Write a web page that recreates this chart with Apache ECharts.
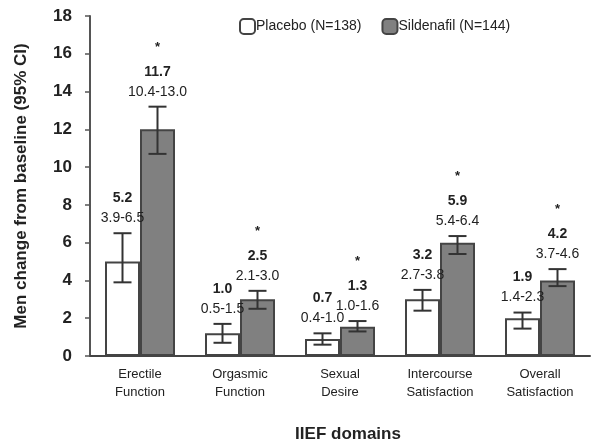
<!DOCTYPE html>
<html>
<head>
<meta charset="utf-8">
<script src="https://cdn.jsdelivr.net/npm/echarts@6/dist/echarts.min.js"></script>
<style>html,body{margin:0;padding:0;background:#fff}#c{width:598px;height:441px}</style>
</head>
<body>
<div id="c"></div>
<script>
var categories = ['Erectile\nFunction', 'Orgasmic\nFunction', 'Sexual\nDesire', 'Intercourse\nSatisfaction', 'Overall\nSatisfaction'];
var placeboBars = [5.0, 1.2, 0.9, 3.0, 2.0];
var placeboLow = [3.9, 0.7, 0.6, 2.4, 1.45];
var placeboHigh = [6.5, 1.7, 1.2, 3.5, 2.3];
var placeboMean = ['5.2', '1.0', '0.7', '3.2', '1.9'];
var placeboCI = ['3.9-6.5', '0.5-1.5', '0.4-1.0', '2.7-3.8', '1.4-2.3'];
var sildBars = [12.0, 3.0, 1.55, 6.0, 4.0];
var sildLow = [10.7, 2.5, 1.3, 5.4, 3.7];
var sildHigh = [13.2, 3.45, 1.85, 6.35, 4.6];
var sildMean = ['11.7', '2.5', '1.3', '5.9', '4.2'];
var sildCI = ['10.4-13.0', '2.1-3.0', '1.0-1.6', '5.4-6.4', '3.7-4.6'];
var sildStar = ['*', '*', '*', '*', '*'];
var yTicks = [0, 2, 4, 6, 8, 10, 12, 14, 16, 18];

var FONT = 'Liberation Sans, Arial, sans-serif';
var BW = 35;

function makeErr(low, high, mean, ci, star, offset) {
  var data = low.map(function (l, i) { return [i, l, high[i], mean[i], ci[i], star ? star[i] : '']; });
  return {
    type: 'custom',
    silent: true,
    z: 5,
    data: data,
    renderItem: function (params, api) {
      var i = api.value(0);
      var pLow = api.coord([i, api.value(1)]);
      var pHigh = api.coord([i, api.value(2)]);
      var x = pLow[0] + offset;
      var cap = 9;
      var d = data[params.dataIndex];
      var lineStyle = { stroke: '#333', lineWidth: 2 };
      var children = [
        { type: 'line', shape: { x1: x, y1: pLow[1], x2: x, y2: pHigh[1] }, style: lineStyle },
        { type: 'line', shape: { x1: x - cap, y1: pLow[1], x2: x + cap, y2: pLow[1] }, style: lineStyle },
        { type: 'line', shape: { x1: x - cap, y1: pHigh[1], x2: x + cap, y2: pHigh[1] }, style: lineStyle },
        { type: 'text', style: { text: d[4], x: x, y: pHigh[1] - 8, align: 'center', verticalAlign: 'bottom', font: '14px ' + FONT, fill: '#222' } },
        { type: 'text', style: { text: d[3], x: x, y: pHigh[1] - 28, align: 'center', verticalAlign: 'bottom', font: 'bold 14px ' + FONT, fill: '#222' } }
      ];
      if (d[5]) {
        children.push({ type: 'text', style: { text: d[5], x: x, y: pHigh[1] - 53, align: 'center', verticalAlign: 'bottom', font: 'bold 13px ' + FONT, fill: '#222' } });
      }
      return { type: 'group', children: children };
    }
  };
}

var chart = echarts.init(document.getElementById('c'));
chart.setOption({
  animation: false,
  backgroundColor: '#fff',
  grid: { left: 90, right: 8, top: 16, bottom: 85, containLabel: false, outerBoundsMode: 'none' },
  legend: {
    top: 13, left: 234,
    itemWidth: 15, itemHeight: 15, itemGap: 20,
    textStyle: { fontFamily: FONT, fontSize: 14, color: '#222', padding: [0, 0, 0, -4] },
    data: ['Placebo (N=138)', 'Sildenafil (N=144)']
  },
  xAxis: {
    type: 'category',
    data: categories,
    axisLine: { lineStyle: { color: '#444', width: 2 } },
    axisTick: { show: false },
    axisLabel: { interval: 0, fontFamily: FONT, fontSize: 13, color: '#222', lineHeight: 18, margin: 9 },
    name: 'IIEF domains',
    nameLocation: 'middle',
    nameGap: 70,
    nameTextStyle: { fontFamily: FONT, fontSize: 17, fontWeight: 'bold', color: '#222', padding: [0, 0, 0, 16] }
  },
  yAxis: {
    type: 'value',
    min: 0, max: 18, interval: 2,
    axisLine: { show: true, lineStyle: { color: '#555', width: 2 } },
    axisTick: { show: true, length: 5, lineStyle: { color: '#555', width: 1.5 } },
    splitLine: { show: false },
    axisLabel: { fontFamily: FONT, fontSize: 17, fontWeight: 'bold', color: '#222', margin: 18,
      formatter: function (v) { return yTicks.indexOf(v) >= 0 ? String(v) : ''; } },
    name: 'Men change from baseline (95% CI)',
    nameLocation: 'middle',
    nameGap: 60,
    nameTextStyle: { fontFamily: FONT, fontSize: 17, fontWeight: 'bold', color: '#222' }
  },
  series: [
    {
      name: 'Placebo (N=138)', type: 'bar', data: placeboBars, barWidth: BW, barGap: '0%',
      itemStyle: { color: '#fff', borderColor: '#444', borderWidth: 2 }
    },
    {
      name: 'Sildenafil (N=144)', type: 'bar', data: sildBars, barWidth: BW, barGap: '0%',
      itemStyle: { color: '#808080', borderColor: '#444', borderWidth: 2 }
    },
    makeErr(placeboLow, placeboHigh, placeboMean, placeboCI, null, -BW / 2),
    makeErr(sildLow, sildHigh, sildMean, sildCI, sildStar, BW / 2)
  ]
});
</script>
</body>
</html>
